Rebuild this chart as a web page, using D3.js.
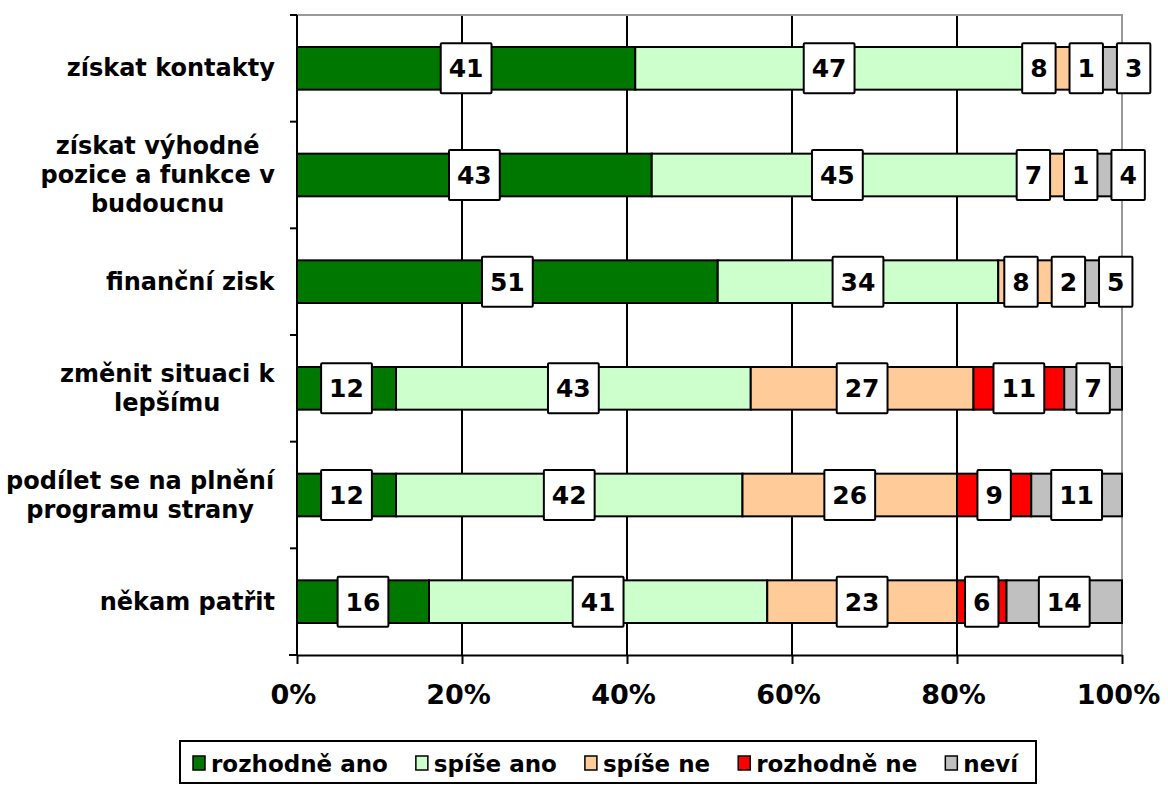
<!DOCTYPE html>
<html>
<head>
<meta charset="utf-8">
<script src="https://cdn.jsdelivr.net/npm/d3@7"></script>
<style>
  body { margin: 0; background: #fff; }
  text { font-family: Verdana, "DejaVu Sans", sans-serif; font-weight: bold; fill: #000; }
</style>
</head>
<body>
<script>
// data
var categories = [
  ["získat kontakty"],
  ["získat výhodné", "pozice a funkce v", "budoucnu"],
  ["finanční zisk"],
  ["změnit situaci k", "lepšímu"],
  ["podílet se na plnění", "programu strany"],
  ["někam patřit"]
];
var series = ["rozhodně ano", "spíše ano", "spíše ne", "rozhodně ne", "neví"];
var colors = ["#007800", "#ccffcc", "#ffcc99", "#ff0000", "#c0c0c0"];
var rozhodneAno = [41, 43, 51, 12, 12, 16];
var spiseAno    = [47, 45, 34, 43, 42, 41];
var spiseNe     = [8, 7, 8, 27, 26, 23];
var rozhodneNe  = [1, 1, 2, 11, 9, 6];
var nevi        = [3, 4, 5, 7, 11, 14];
var xTicks = [0, 20, 40, 60, 80, 100];

var cols = [rozhodneAno, spiseAno, spiseNe, rozhodneNe, nevi];
var rows = categories.map(function(c, i) {
  var r = {key: i};
  series.forEach(function(s, j) { r[s] = cols[j][i]; });
  return r;
});

var svg = d3.select("body").append("svg")
    .attr("width", 1168)
    .attr("height", 785);

var x = d3.scaleLinear().domain([0, 100]).range([297, 1122]);
var y = d3.scaleBand()
    .domain(rows.map(function(d) { return d.key; }))
    .range([15, 655])
    .paddingInner(0.6)
    .paddingOuter(0.3);

// grid lines
svg.append("g").selectAll("line")
    .data([20, 40, 60, 80])
  .enter().append("line")
    .attr("x1", function(d) { return x(d); })
    .attr("x2", function(d) { return x(d); })
    .attr("y1", 15).attr("y2", 655)
    .attr("stroke", "#000").attr("stroke-width", 2);

// plot border top / right
svg.append("path")
    .attr("d", "M" + x(0) + ",15H" + x(100) + "V655")
    .attr("fill", "none").attr("stroke", "#999").attr("stroke-width", 2);

// bars
var stack = d3.stack().keys(series)(rows);
var layers = svg.append("g").selectAll("g")
    .data(stack)
  .enter().append("g")
    .attr("fill", function(d, i) { return colors[i]; });

layers.selectAll("rect")
    .data(function(d) { return d; })
  .enter().append("rect")
    .attr("x", function(d) { return x(d[0]); })
    .attr("width", function(d) { return x(d[1]) - x(d[0]); })
    .attr("y", function(d) { return y(d.data.key); })
    .attr("height", y.bandwidth())
    .attr("stroke", "#000")
    .attr("stroke-width", 2);

// left axis
var step = y.step();
svg.append("line")
    .attr("x1", 297).attr("x2", 297).attr("y1", 15).attr("y2", 655)
    .attr("stroke", "#000").attr("stroke-width", 2);
svg.append("g").selectAll("line")
    .data(d3.range(categories.length + 1))
  .enter().append("line")
    .attr("x1", 290).attr("x2", 297)
    .attr("y1", function(i) { return 15 + i * step; })
    .attr("y2", function(i) { return 15 + i * step; })
    .attr("stroke", "#000").attr("stroke-width", 2);

// category labels (lines centred, block right-aligned)
var catG = svg.append("g").selectAll("text")
    .data(categories)
  .enter().append("text")
    .attr("text-anchor", "middle")
    .style("font-size", "24px")
    .attr("transform", function(d, i) {
      return "translate(0," + (y(i) + y.bandwidth() / 2) + ")";
    });
catG.each(function(lines) {
  var t = d3.select(this);
  var lh = 29;
  lines.forEach(function(l, k) {
    t.append("tspan")
      .attr("x", 0)
      .attr("text-anchor", "middle")
      .attr("y", (k - (lines.length - 1) / 2) * lh + 8)
      .text(l);
  });
  var w = this.getBBox().width;
  t.selectAll("tspan").attr("x", 275 - w / 2);
});

// bottom axis
var xAxis = svg.append("g")
    .attr("transform", "translate(0,655)")
    .call(d3.axisBottom(x).tickValues(xTicks)
      .tickFormat(function(d) { return d + "%"; })
      .tickSizeInner(9).tickSizeOuter(0).tickPadding(16));
xAxis.select(".domain").attr("stroke", "#000").attr("stroke-width", 2);
xAxis.selectAll(".tick line").attr("stroke", "#000").attr("stroke-width", 2);
xAxis.selectAll(".tick text")
    .attr("font-family", null).attr("font-size", null)
    .style("font-size", "27px").attr("dy", "0.9em")
    .attr("x", -4);
svg.append("line")
    .attr("x1", 289).attr("x2", 297).attr("y1", 655).attr("y2", 655)
    .attr("stroke", "#000").attr("stroke-width", 2);

// value labels
var labelG = svg.append("g");
rows.forEach(function(r, i) {
  var cy = y(i) + y.bandwidth() / 2;
  var items = [];
  var start = 0;
  series.forEach(function(s) {
    var v = r[s];
    var g = labelG.append("g");
    var rect = g.append("rect")
        .attr("fill", "#fff").attr("stroke", "#000").attr("stroke-width", 2)
        .attr("rx", 1);
    var t = g.append("text")
        .attr("text-anchor", "middle")
        .style("font-size", "25px")
        .attr("y", cy + 9)
        .text(v);
    var w = t.node().getComputedTextLength() + 16;
    items.push({g: g, rect: rect, t: t, w: w, c: x(start + v / 2)});
    start += v;
  });
  // push overlapping labels apart
  var gap = 14;
  for (var it = 0; it < 200; it++) {
    var moved = false;
    for (var k = 0; k < items.length - 1; k++) {
      var a = items[k], b = items[k + 1];
      var need = a.w / 2 + b.w / 2 + gap - (b.c - a.c);
      if (need > 0.1) {
        a.c -= need / 2; b.c += need / 2; moved = true;
      }
    }
    if (!moved) break;
  }
  items.forEach(function(o) {
    o.rect.attr("x", o.c - o.w / 2).attr("width", o.w)
      .attr("y", cy - 25).attr("height", 50);
    o.t.attr("x", o.c);
  });
});

// legend
var leg = svg.append("g");
leg.append("rect")
    .attr("x", 180).attr("y", 741).attr("width", 856).attr("height", 42)
    .attr("fill", "#fff").attr("stroke", "#000").attr("stroke-width", 2);
var lx = 193;
series.forEach(function(s, i) {
  leg.append("rect")
      .attr("x", lx).attr("y", 756).attr("width", 12).attr("height", 14)
      .attr("fill", colors[i]).attr("stroke", "#000").attr("stroke-width", 1.5);
  var t = leg.append("text")
      .attr("x", lx + 18).attr("y", 772)
      .style("font-size", "23px")
      .text(s);
  lx += 18 + t.node().getComputedTextLength() + 28;
});
</script>
</body>
</html>
